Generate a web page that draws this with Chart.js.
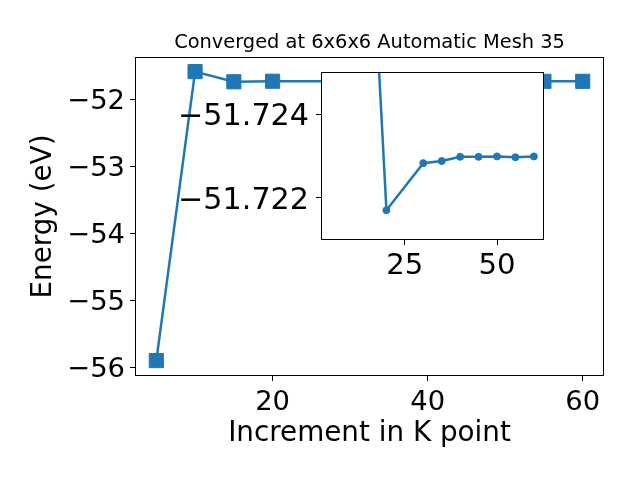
<!DOCTYPE html>
<html>
<head>
<meta charset="utf-8">
<script src="https://cdn.jsdelivr.net/npm/chart.js@4"></script>
<style>
  html, body { margin: 0; padding: 0; background: #fff; }
  #wrap { position: relative; width: 640px; height: 480px; }
  #main { position: absolute; left: 0; top: 0; }
  #inset { position: absolute; left: 150px; top: 40px; }
</style>
</head>
<body>
<div id="wrap">
  <canvas id="main" width="640" height="480"></canvas>
  <canvas id="inset" width="420" height="240"></canvas>
</div>
<script>
// k-point increments and total energies (eV)
const kPoints = [5, 10, 15, 20, 30, 35, 40, 45, 50, 55, 60];
const energies = [-55.89, -51.578, -51.730, -51.72171, -51.72283, -51.72288,
                  -51.72298, -51.72298, -51.72299, -51.72297, -51.72299];
// the zoomed inset only plots from the 3rd point on
const insetStart = 2;

const mainXTicks = [20, 40, 60];
const mainYTicks = [-56, -55, -54, -53, -52];
const insetXTicks = [25, 50];
const insetYTicks = [-51.724, -51.722];

const blue = '#1f77b4';
const tickFont = { size: 27.4 };
const insetTickFont = { size: 30.2 };
const labelFont = { size: 27.8 };

Chart.defaults.font.family = "'DejaVu Sans'";
Chart.defaults.color = '#000';

const fmt = (v, digits) => (v < 0 ? '\u2212' : '') + Math.abs(v).toFixed(digits);

// white background inside the plot area + black frame on top
const framePlugin = {
  id: 'frame',
  beforeDatasetsDraw(chart, args, opts) {
    if (!opts.fill) return;
    const { ctx, chartArea: a } = chart;
    ctx.save();
    ctx.fillStyle = opts.fill;
    ctx.fillRect(a.left, a.top, a.right - a.left, a.bottom - a.top);
    ctx.restore();
  },
  afterDraw(chart) {
    const { ctx, chartArea: a } = chart;
    ctx.save();
    ctx.strokeStyle = '#000';
    ctx.lineWidth = 1;
    ctx.strokeRect(a.left + 0.5, a.top + 0.5, a.right - a.left - 1, a.bottom - a.top - 1);
    ctx.restore();
  }
};

const points = kPoints.map((x, i) => ({ x: x, y: energies[i] }));

function axisGrid() {
  return { drawOnChartArea: false, drawTicks: true, tickLength: 5, tickColor: '#000', tickWidth: 1 };
}

new Chart(document.getElementById('main'), {
  type: 'line',
  data: {
    datasets: [{
      data: points,
      borderColor: blue,
      backgroundColor: blue,
      borderWidth: 2.5,
      pointStyle: 'rect',
      pointRadius: 10,
      pointBorderWidth: 1,
      borderJoinStyle: 'round'
    }]
  },
  options: {
    responsive: false,
    animation: false,
    devicePixelRatio: 1,
    events: [],
    layout: { padding: { left: 0, right: 36, top: 0, bottom: 0 } },
    plugins: {
      legend: { display: false },
      tooltip: { enabled: false },
      title: {
        display: true,
        text: 'Converged at 6x6x6 Automatic Mesh 35',
        fullSize: false,
        color: '#000',
        font: { size: 19.4, weight: 'normal' },
        padding: { top: 31, bottom: 57 - 31 - 19.4 * 1.2 }
      },
      frame: {}
    },
    scales: {
      x: {
        type: 'linear',
        min: 2.25,
        max: 62.75,
        afterBuildTicks: s => { s.ticks = mainXTicks.map(v => ({ value: v })); },
        afterFit: s => { s.height = 104; },
        grid: axisGrid(),
        border: { display: false },
        ticks: { font: tickFont, padding: 5, autoSkip: false, maxRotation: 0, callback: v => fmt(v, 0) },
        title: { display: true, text: 'Increment in K point', font: labelFont, padding: { top: 0, bottom: 30 } }
      },
      y: {
        min: -56.12,
        max: -51.36,
        afterBuildTicks: s => { s.ticks = mainYTicks.map(v => ({ value: v })); },
        afterFit: s => { s.width = 135; },
        grid: axisGrid(),
        border: { display: false },
        ticks: { font: tickFont, padding: 5, labelOffset: 2, autoSkip: false, callback: v => fmt(v, 0) },
        title: { display: true, text: 'Energy (eV)', font: labelFont, padding: { top: 26.6, bottom: 0 } }
      }
    }
  },
  plugins: [framePlugin]
});

new Chart(document.getElementById('inset'), {
  type: 'line',
  data: {
    datasets: [{
      data: points.slice(insetStart),
      borderColor: blue,
      backgroundColor: blue,
      borderWidth: 2.5,
      pointStyle: 'circle',
      pointRadius: 3.5,
      pointBorderWidth: 1,
      clip: 0
    }]
  },
  options: {
    responsive: false,
    animation: false,
    devicePixelRatio: 1,
    events: [],
    layout: { padding: { left: 0, right: 26, top: 32, bottom: 0 } },
    plugins: {
      legend: { display: false },
      tooltip: { enabled: false },
      frame: { fill: '#fff' }
    },
    scales: {
      x: {
        type: 'linear',
        min: 2.25,
        max: 62.75,
        afterBuildTicks: s => { s.ticks = insetXTicks.map(v => ({ value: v })); },
        afterFit: s => { s.height = 40; },
        grid: axisGrid(),
        border: { display: false },
        ticks: { font: { size: 29.2 }, padding: 4, autoSkip: false, maxRotation: 0, callback: v => fmt(v, 0) }
      },
      y: {
        reverse: true,
        min: -51.725,
        max: -51.721,
        afterBuildTicks: s => { s.ticks = insetYTicks.map(v => ({ value: v })); },
        afterFit: s => { s.width = 171; },
        grid: axisGrid(),
        border: { display: false },
        ticks: { font: insetTickFont, padding: 7, labelOffset: 3, autoSkip: false, callback: v => fmt(v, 3) }
      }
    }
  },
  plugins: [framePlugin]
});
</script>
</body>
</html>
